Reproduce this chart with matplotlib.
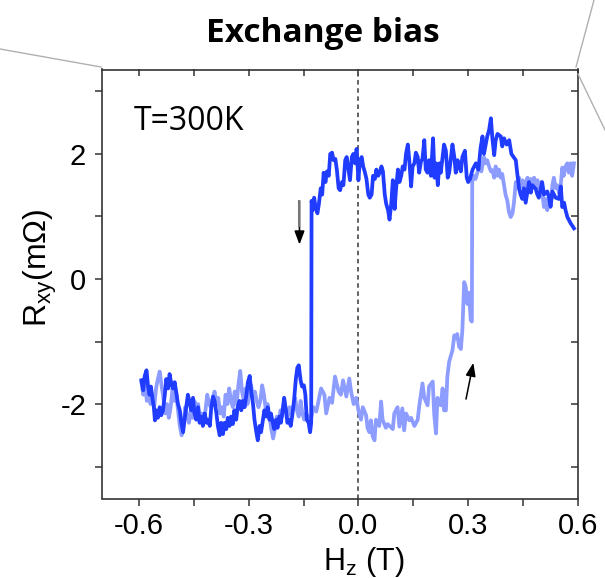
import matplotlib
matplotlib.use("Agg")
import matplotlib.pyplot as plt
from matplotlib.lines import Line2D
import numpy as np

plt.rcParams['font.family'] = ['Liberation Sans', 'DejaVu Sans']
plt.rcParams['mathtext.fontset'] = 'custom'
plt.rcParams['mathtext.rm'] = 'Liberation Sans'
plt.rcParams['mathtext.it'] = 'Liberation Sans:italic'

# ---- data: descending-field branch (dark) ----
dark_x = [-0.593, -0.588, -0.584, -0.579, -0.575, -0.571, -0.567, -0.563, -0.559, -0.556,
          -0.552, -0.548, -0.543, -0.539, -0.534, -0.529, -0.525, -0.520, -0.516, -0.511,
          -0.507, -0.502, -0.497, -0.493, -0.488, -0.484, -0.479, -0.475, -0.470, -0.466,
          -0.462, -0.457, -0.452, -0.448, -0.443, -0.438, -0.434, -0.429, -0.425, -0.420,
          -0.415, -0.411, -0.406, -0.402, -0.397, -0.393, -0.388, -0.384, -0.379, -0.375,
          -0.370, -0.366, -0.361, -0.357, -0.352, -0.348, -0.343, -0.339, -0.334, -0.330,
          -0.325, -0.320, -0.316, -0.311, -0.306, -0.302, -0.297, -0.293, -0.288, -0.284,
          -0.279, -0.275, -0.270, -0.266, -0.261, -0.257, -0.252, -0.248, -0.243, -0.239,
          -0.234, -0.230, -0.225, -0.221, -0.216, -0.212, -0.207, -0.203, -0.198, -0.194,
          -0.189, -0.185, -0.180, -0.176, -0.171, -0.167, -0.163, -0.158, -0.154, -0.149,
          -0.145, -0.141, -0.136, -0.132, -0.129,
          -0.128, -0.125, -0.121, -0.117, -0.112, -0.108, -0.103, -0.099, -0.095, -0.090,
          -0.086, -0.081, -0.077, -0.072, -0.068, -0.063, -0.059, -0.054, -0.050, -0.045,
          -0.041, -0.036, -0.032, -0.027, -0.023, -0.018, -0.014, -0.009, -0.005, 0.000,
          0.004, 0.009, 0.013, 0.018, 0.022, 0.027, 0.031, 0.036, 0.040, 0.045,
          0.049, 0.054, 0.058, 0.063, 0.067, 0.072, 0.076, 0.081, 0.085, 0.090,
          0.094, 0.099, 0.103, 0.108, 0.112, 0.117, 0.121, 0.126, 0.130, 0.135,
          0.139, 0.144, 0.148, 0.153, 0.157, 0.162, 0.166, 0.171, 0.175, 0.180,
          0.184, 0.189, 0.193, 0.198, 0.204, 0.208, 0.212, 0.217, 0.221, 0.225,
          0.234, 0.239, 0.244, 0.248, 0.257, 0.262, 0.266, 0.271, 0.275, 0.280,
          0.284, 0.291, 0.296, 0.300, 0.305, 0.312, 0.321, 0.328, 0.334, 0.339,
          0.343, 0.352, 0.357, 0.362, 0.366, 0.371, 0.375, 0.380, 0.389, 0.393,
          0.398, 0.405, 0.412, 0.418, 0.430, 0.434, 0.439, 0.443, 0.448, 0.452,
          0.457, 0.466, 0.471, 0.475, 0.484, 0.489, 0.493, 0.502, 0.507, 0.516,
          0.521, 0.525, 0.530, 0.539, 0.548, 0.553, 0.557, 0.562, 0.566, 0.571,
          0.580, 0.589]
dark_y = [-1.62, -1.78, -1.55, -1.46, -1.70, -1.85, -1.72, -1.90, -2.05, -2.26,
          -2.10, -2.22, -2.05, -2.18, -2.10, -1.85, -1.60, -1.75, -1.52, -1.68,
          -1.75, -1.65, -1.85, -2.00, -2.10, -2.30, -2.45, -2.25, -2.02, -1.85,
          -1.95, -2.10, -1.90, -2.15, -2.25, -2.05, -2.30, -2.20, -2.35, -2.15,
          -2.30, -2.25, -2.35, -2.05, -1.88, -1.95, -2.15, -2.35, -2.50, -2.30,
          -2.48, -2.30, -2.40, -2.22, -2.35, -2.20, -2.32, -2.10, -2.25, -2.05,
          -1.95, -2.10, -1.95, -2.05, -1.85, -1.65, -1.55, -1.80, -2.00, -2.25,
          -2.45, -2.58, -2.35, -2.45, -2.25, -2.10, -2.20, -2.05, -2.25, -2.15,
          -2.30, -2.40, -2.25, -2.38, -2.20, -2.30, -2.10, -1.90, -2.10, -2.30,
          -2.25, -2.35, -2.15, -1.95, -1.60, -1.42, -1.38, -1.62, -1.72, -1.70,
          -1.85, -2.25, -2.30, -2.45, -2.30,
          1.25, 1.10, 1.30, 1.15, 1.05, 1.20, 1.45, 1.35, 1.70, 1.55,
          1.72, 1.65, 2.00, 2.02, 1.90, 1.92, 1.75, 1.45, 1.42, 1.55,
          1.50, 1.90, 1.95, 1.75, 1.58, 1.95, 2.00, 1.85, 2.08, 1.58,
          1.90, 1.95, 1.80, 1.70, 1.60, 1.35, 1.30, 1.35, 1.65, 1.60,
          1.75, 1.65, 1.70, 1.80, 1.72, 1.35, 1.20, 1.10, 0.95, 1.22,
          1.58, 1.12, 1.45, 1.75, 1.55, 1.65, 1.80, 1.75, 2.00, 2.15,
          1.90, 1.48, 1.80, 1.85, 2.02, 1.95, 1.70, 1.88, 1.92, 2.22,
          1.75, 1.70, 1.90, 1.65, 2.25, 1.62, 1.85, 1.50, 1.85, 1.70,
          2.15, 2.05, 1.62, 1.70, 2.15, 1.95, 1.70, 1.90, 1.80, 1.72,
          1.95, 2.05, 1.62, 1.55, 1.60, 1.75, 1.85, 1.75, 2.10, 2.28,
          2.00, 2.28, 2.38, 2.57, 2.25, 1.98, 2.22, 2.32, 2.28, 2.12,
          2.25, 2.15, 2.22, 2.00, 1.90, 1.69, 1.45, 1.35, 1.28, 1.45,
          1.22, 1.55, 1.38, 1.50, 1.45, 1.35, 1.30, 1.55, 1.35, 1.40,
          1.30, 1.16, 1.40, 1.30, 1.28, 1.48, 1.15, 1.22, 1.10, 0.99,
          0.89, 0.81]

# ---- data: ascending-field branch (light) ----
light_x = [-0.593, -0.588, -0.583, -0.578, -0.573, -0.568, -0.563, -0.558, -0.553, -0.548,
           -0.543, -0.538, -0.533, -0.528, -0.523, -0.518, -0.513, -0.508, -0.503, -0.498,
           -0.493, -0.488, -0.483, -0.478, -0.473, -0.468, -0.463, -0.458, -0.453, -0.448,
           -0.443, -0.438, -0.433, -0.428, -0.423, -0.418, -0.413, -0.408, -0.403, -0.398,
           -0.393, -0.388, -0.383, -0.378, -0.373, -0.368, -0.363, -0.358, -0.353, -0.348,
           -0.343, -0.338, -0.333, -0.328, -0.323, -0.318, -0.313, -0.308, -0.303, -0.298,
           -0.293, -0.288, -0.283, -0.278, -0.273, -0.268, -0.263, -0.258, -0.253, -0.248,
           -0.243, -0.238, -0.233, -0.228, -0.223, -0.218, -0.213, -0.208, -0.203, -0.198,
           -0.193, -0.188, -0.183, -0.178, -0.173, -0.168, -0.163, -0.158, -0.153, -0.148,
           -0.143, -0.138, -0.133, -0.128, -0.123, -0.115, -0.102, -0.093, -0.088, -0.079,
           -0.072, -0.064, -0.054, -0.048, -0.042, -0.033, -0.025, -0.020, -0.013, -0.006,
           0.000, 0.007, 0.012, 0.021, 0.025, 0.030, 0.034, 0.039, 0.044, 0.048,
           0.057, 0.062, 0.066, 0.075, 0.080, 0.094, 0.098, 0.107, 0.112, 0.120,
           0.125, 0.130, 0.139, 0.144, 0.153, 0.162, 0.166, 0.175, 0.180, 0.189,
           0.193, 0.203, 0.207, 0.212, 0.216, 0.225, 0.230, 0.234, 0.239, 0.243,
           0.248, 0.257, 0.262, 0.266, 0.270, 0.275, 0.280, 0.284, 0.289, 0.293,
           0.298, 0.302, 0.307, 0.310,
           0.311, 0.316, 0.320, 0.330, 0.336, 0.343, 0.348, 0.352, 0.357, 0.362,
           0.366, 0.371, 0.375, 0.380, 0.384, 0.389, 0.393, 0.398, 0.402, 0.407,
           0.411, 0.416, 0.421, 0.425, 0.430, 0.434, 0.439, 0.443, 0.448, 0.452,
           0.457, 0.462, 0.466, 0.471, 0.475, 0.480, 0.484, 0.489, 0.493, 0.498,
           0.502, 0.507, 0.512, 0.516, 0.521, 0.525, 0.530, 0.534, 0.539, 0.543,
           0.548, 0.552, 0.557, 0.561, 0.566, 0.571, 0.575, 0.580, 0.584, 0.589]
light_y = [-1.65, -1.85, -1.70, -1.95, -1.80, -2.00, -1.85, -2.05, -1.75, -1.60,
           -1.48, -1.70, -1.90, -2.15, -2.00, -2.22, -2.05, -1.75, -1.95, -1.80,
           -2.10, -2.35, -2.50, -2.30, -2.05, -2.20, -2.30, -2.10, -2.22, -1.95,
           -2.10, -2.00, -2.25, -2.15, -2.30, -2.10, -1.85, -2.00, -2.05, -1.90,
           -1.80, -2.00, -1.90, -2.15, -2.05, -2.20, -1.85, -2.00, -1.75, -1.95,
           -2.05, -1.80, -2.00, -1.70, -1.47, -1.80, -1.95, -1.75, -2.00, -1.80,
           -1.70, -1.90, -1.80, -1.95, -2.05, -1.95, -1.70, -1.85, -2.10, -2.00,
           -2.20, -2.40, -2.55, -2.40, -2.20, -2.30, -2.10, -2.20, -1.95, -2.10,
           -2.20, -2.05, -2.15, -2.05, -1.90, -2.10, -2.20, -1.95, -2.15, -2.25,
           -2.15, -2.20, -2.25, -2.20, -2.05, -2.12, -1.75, -1.85, -2.15, -1.90,
           -1.98, -1.56, -1.80, -1.85, -1.62, -1.88, -1.59, -1.80, -2.00, -1.90,
           -2.10, -2.25, -2.05, -2.18, -2.38, -2.45, -2.26, -2.52, -2.58, -2.25,
           -2.35, -1.96, -2.25, -2.38, -2.32, -2.40, -2.15, -2.05, -2.36, -2.07,
           -2.42, -2.15, -2.26, -2.22, -2.35, -2.25, -2.04, -1.67, -1.90, -2.02,
           -1.72, -1.64, -2.15, -2.47, -1.90, -2.02, -1.75, -2.10, -2.10, -1.56,
           -1.32, -1.14, -0.90, -0.95, -0.88, -1.08, -1.12, -0.82, -0.05, -0.12,
           -0.40, -0.22, -0.66, -0.68,
           1.56, 1.65, 1.60, 1.80, 1.72, 1.95, 1.85, 1.90, 1.80, 1.72,
           1.74, 1.62, 1.80, 1.65, 1.75, 1.62, 1.68, 1.50, 1.35, 1.25,
           1.08, 0.99, 1.05, 1.22, 1.55, 1.45, 1.62, 1.48, 1.58, 1.40,
           1.55, 1.62, 1.50, 1.60, 1.45, 1.62, 1.52, 1.58, 1.45, 1.55,
           1.40, 1.15, 1.28, 1.10, 1.25, 1.15, 1.50, 1.62, 1.45, 1.50,
           1.38, 1.45, 1.78, 1.65, 1.80, 1.85, 1.70, 1.85, 1.65, 1.85]

x_ticks = [-0.6, -0.3, 0.0, 0.3, 0.6]
x_ticklabels = ['-0.6', '-0.3', '0.0', '0.3', '0.6']
y_ticks = [-2, 0, 2]
y_ticklabels = ['-2', '0', '2']

DARK = '#1f3cff'
LIGHT = '#8c9cff'
SPINE = '#333333'

fig = plt.figure(figsize=(6.05, 5.78), dpi=100)
ax = fig.add_axes([101.5 / 605, 1 - 498.5 / 578, (578 - 101.5) / 605, (498.5 - 69.5) / 578])

ax.axvline(0, color='#555555', lw=1.3, ls=(0, (2.5, 2)), zorder=1)
ax.plot(light_x, light_y, color=LIGHT, lw=2.7, zorder=2, solid_joinstyle='round')
ax.plot(dark_x, dark_y, color=DARK, lw=2.7, zorder=3, solid_joinstyle='round')

ax.set_xlim(-0.702, 0.6)
ax.set_ylim(-3.51, 3.35)

ax.set_xticks(x_ticks)
ax.set_xticklabels(x_ticklabels)
ax.set_yticks(y_ticks)
ax.set_yticklabels(y_ticklabels)
ax.set_xticks([-0.45, -0.15, 0.15, 0.45], minor=True)
ax.set_yticks([-3, -1, 1, 3], minor=True)

for s in ax.spines.values():
    s.set_color(SPINE)
    s.set_linewidth(1.2)

ax.tick_params(axis='both', which='both', direction='out', length=5, width=1.1,
               color=SPINE, labelsize=21, top=False, right=False)
ax.tick_params(axis='x', which='major', pad=5)
ax.tick_params(axis='y', which='major', pad=6)

secx = ax.secondary_xaxis('top')
secx.set_xticks(x_ticks)
secx.set_xticks([-0.45, -0.15, 0.15, 0.45], minor=True)
secx.tick_params(axis='x', which='both', direction='in', length=5, width=1.1,
                 color=SPINE, labeltop=False)
secx.spines['top'].set_visible(False)
secy = ax.secondary_yaxis('right')
secy.set_yticks(y_ticks)
secy.set_yticks([-3, -1, 1, 3], minor=True)
secy.tick_params(axis='y', which='both', direction='in', length=5, width=1.1,
                 color=SPINE, labelright=False)
secy.spines['right'].set_visible(False)

ax.set_xlabel(r'H$_\mathrm{z}$ (T)', fontsize=22)
ax.xaxis.set_label_coords(0.551, -0.108, transform=ax.transAxes)
ax.xaxis.label.set_va('top')
ax.set_ylabel(r'R$_\mathrm{xy}$(m$\Omega$)', fontsize=23)
ax.yaxis.set_label_coords(-0.09, 0.537, transform=ax.transAxes)

ax.text(-0.614, 2.38, 'T=300K', fontsize=23, family='Open Sans', va='baseline', ha='left')

fig.text(323 / 605, 1 - 42 / 578, 'Exchange bias', fontsize=24, family='Open Sans',
         fontweight='bold', ha='center', va='baseline')

# arrows
ax.annotate('', xy=(-0.161, 0.55), xytext=(-0.161, 1.25),
            arrowprops=dict(arrowstyle='-|>,head_length=0.8,head_width=0.3',
                            color='black', lw=1.2, shrinkA=0, shrinkB=0))
ax.plot([-0.161, -0.161], [1.25, 0.85], color='#777777', lw=1.5, zorder=5)
ax.annotate('', xy=(0.314, -1.34), xytext=(0.294, -1.92),
            arrowprops=dict(arrowstyle='-|>,head_length=0.8,head_width=0.3',
                            color='black', lw=1.1, shrinkA=0, shrinkB=0))

# decorative callout lines in figure coordinates
def fl(p0, p1):
    fig.add_artist(Line2D([p0[0] / 605, p1[0] / 605], [1 - p0[1] / 578, 1 - p1[1] / 578],
                          color='#b0b0b0', lw=1.0))
fl((0, 49), (101, 67))
fl((594, 0), (576, 67))
fl((578, 74), (605, 130))

fig.savefig('out.png', dpi=100)
